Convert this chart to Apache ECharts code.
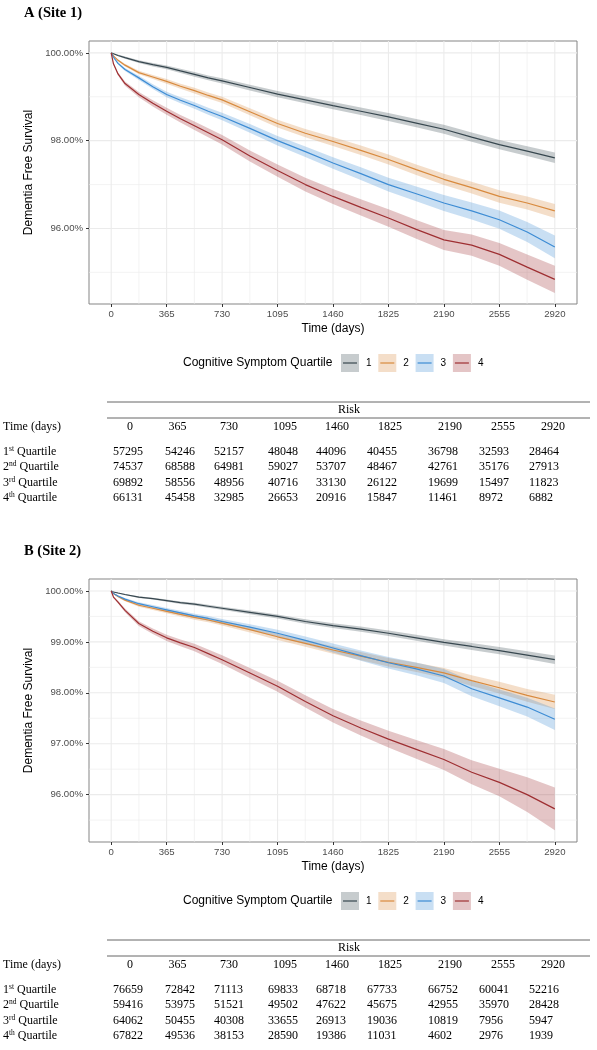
<!DOCTYPE html>
<html><head><meta charset="utf-8">
<script src="https://cdn.jsdelivr.net/npm/echarts@6/dist/echarts.min.js"></script>
<style>html,body{margin:0;padding:0;background:#fff}#c{width:597px;height:1050px}</style>
</head><body><div id="c"></div>
<script>
// ---------- DATA ----------
const days = [0, 15, 45, 91, 182, 274, 365, 456, 548, 639, 730, 913, 1095, 1278, 1460, 1643, 1825, 2008, 2190, 2373, 2555, 2738, 2920];
const xTicks = [0, 365, 730, 1095, 1460, 1825, 2190, 2555, 2920];
const xMinor = [182.5, 547.5, 912.5, 1277.5, 1642.5, 2007.5, 2372.5, 2737.5];
const yTicksA = [96, 98, 100];
const yMinorA = [95, 97, 99];
const yTicksB = [96, 97, 98, 99, 100];
const yMinorB = [95.5, 96.5, 97.5, 98.5, 99.5];
const quartileNames = ['1', '2', '3', '4'];

// Site 1 survival (%)
const siteA_q1 = [100, 99.98, 99.94, 99.89, 99.80, 99.73, 99.67, 99.59, 99.51, 99.43, 99.36, 99.21, 99.06, 98.93, 98.80, 98.67, 98.54, 98.40, 98.26, 98.08, 97.91, 97.76, 97.61];
const siteA_q2 = [100, 99.93, 99.83, 99.72, 99.55, 99.45, 99.35, 99.24, 99.14, 99.03, 98.93, 98.66, 98.39, 98.17, 97.98, 97.78, 97.57, 97.34, 97.12, 96.93, 96.73, 96.58, 96.40];
const siteA_q3 = [100, 99.90, 99.76, 99.62, 99.43, 99.23, 99.05, 98.92, 98.80, 98.67, 98.55, 98.28, 98.00, 97.75, 97.49, 97.25, 97.00, 96.79, 96.58, 96.40, 96.20, 95.92, 95.58];
const siteA_q4 = [100, 99.75, 99.52, 99.30, 99.05, 98.85, 98.67, 98.50, 98.34, 98.18, 98.02, 97.65, 97.32, 97.00, 96.73, 96.48, 96.24, 95.98, 95.74, 95.62, 95.41, 95.12, 94.84];
// Site 1 CI half-widths (%)
const ciA_q1 = [0, 0.01, 0.02, 0.025, 0.032, 0.038, 0.043, 0.048, 0.052, 0.056, 0.06, 0.066, 0.072, 0.078, 0.083, 0.088, 0.092, 0.096, 0.1, 0.104, 0.108, 0.112, 0.118];
const ciA_q2 = [0, 0.012, 0.022, 0.03, 0.04, 0.047, 0.053, 0.058, 0.063, 0.068, 0.072, 0.08, 0.088, 0.095, 0.102, 0.108, 0.114, 0.12, 0.127, 0.134, 0.142, 0.15, 0.16];
const ciA_q3 = [0, 0.015, 0.027, 0.036, 0.047, 0.055, 0.062, 0.068, 0.074, 0.08, 0.086, 0.097, 0.108, 0.12, 0.132, 0.143, 0.155, 0.167, 0.18, 0.193, 0.207, 0.23, 0.26];
const ciA_q4 = [0, 0.02, 0.035, 0.047, 0.06, 0.07, 0.079, 0.087, 0.095, 0.103, 0.11, 0.125, 0.14, 0.155, 0.17, 0.185, 0.2, 0.214, 0.228, 0.243, 0.26, 0.285, 0.31];

// Site 2 survival (%)
const siteB_q1 = [100, 99.98, 99.96, 99.93, 99.88, 99.85, 99.81, 99.77, 99.74, 99.70, 99.66, 99.58, 99.50, 99.40, 99.32, 99.25, 99.17, 99.08, 98.99, 98.91, 98.83, 98.74, 98.65];
const siteB_q2 = [100, 99.95, 99.89, 99.82, 99.72, 99.66, 99.60, 99.54, 99.48, 99.43, 99.37, 99.24, 99.10, 98.97, 98.84, 98.72, 98.60, 98.50, 98.39, 98.24, 98.10, 97.95, 97.82];
const siteB_q3 = [100, 99.95, 99.90, 99.84, 99.75, 99.69, 99.63, 99.57, 99.51, 99.46, 99.40, 99.29, 99.17, 99.03, 98.88, 98.73, 98.59, 98.47, 98.33, 98.08, 97.90, 97.72, 97.48];
const siteB_q4 = [100, 99.88, 99.78, 99.62, 99.36, 99.21, 99.08, 98.98, 98.89, 98.77, 98.65, 98.39, 98.13, 97.83, 97.55, 97.31, 97.09, 96.89, 96.69, 96.44, 96.24, 96.00, 95.72];
// Site 2 CI half-widths (%)
const ciB_q1 = [0, 0.005, 0.01, 0.012, 0.016, 0.019, 0.022, 0.025, 0.027, 0.029, 0.031, 0.035, 0.039, 0.043, 0.047, 0.051, 0.055, 0.059, 0.063, 0.067, 0.071, 0.076, 0.082];
const ciB_q2 = [0, 0.01, 0.017, 0.022, 0.028, 0.032, 0.036, 0.04, 0.043, 0.046, 0.049, 0.055, 0.061, 0.067, 0.073, 0.079, 0.085, 0.091, 0.098, 0.106, 0.115, 0.125, 0.14];
const ciB_q3 = [0, 0.01, 0.017, 0.022, 0.028, 0.032, 0.036, 0.04, 0.043, 0.046, 0.05, 0.058, 0.067, 0.077, 0.088, 0.1, 0.112, 0.124, 0.137, 0.15, 0.165, 0.185, 0.21];
const ciB_q4 = [0, 0.015, 0.027, 0.036, 0.047, 0.055, 0.062, 0.068, 0.074, 0.08, 0.086, 0.097, 0.108, 0.12, 0.133, 0.148, 0.165, 0.185, 0.207, 0.235, 0.27, 0.34, 0.42];

// Risk tables
const riskTimes = ['0', '365', '730', '1095', '1460', '1825', '2190', '2555', '2920'];
const riskRowOrd = ['st', 'nd', 'rd', 'th'];
const riskA_q1 = [57295, 54246, 52157, 48048, 44096, 40455, 36798, 32593, 28464];
const riskA_q2 = [74537, 68588, 64981, 59027, 53707, 48467, 42761, 35176, 27913];
const riskA_q3 = [69892, 58556, 48956, 40716, 33130, 26122, 19699, 15497, 11823];
const riskA_q4 = [66131, 45458, 32985, 26653, 20916, 15847, 11461, 8972, 6882];
const riskB_q1 = [76659, 72842, 71113, 69833, 68718, 67733, 66752, 60041, 52216];
const riskB_q2 = [59416, 53975, 51521, 49502, 47622, 45675, 42955, 35970, 28428];
const riskB_q3 = [64062, 50455, 40308, 33655, 26913, 19036, 10819, 7956, 5947];
const riskB_q4 = [67822, 49536, 38153, 28590, 19386, 11031, 4602, 2976, 1939];

// ---------- LAYOUT / STYLE ----------
const colors = ['#37474F', '#D88A3E', '#3D8CD4', '#9E2F32'];
const SANS = '"Liberation Sans", Arial, Helvetica, sans-serif';
const SERIF = '"Liberation Serif", "Times New Roman", serif';
const panels = [
  { title: 'A (Site 1)', surv: [siteA_q1, siteA_q2, siteA_q3, siteA_q4], ci: [ciA_q1, ciA_q2, ciA_q3, ciA_q4],
    risk: [riskA_q1, riskA_q2, riskA_q3, riskA_q4], yMin: 94.28, yMax: 100.27, yTicks: yTicksA, yMinor: yMinorA, dy: 0 },
  { title: 'B (Site 2)', surv: [siteB_q1, siteB_q2, siteB_q3, siteB_q4], ci: [ciB_q1, ciB_q2, ciB_q3, ciB_q4],
    risk: [riskB_q1, riskB_q2, riskB_q3, riskB_q4], yMin: 95.07, yMax: 100.235, yTicks: yTicksB, yMinor: yMinorB, dy: 538 }
];
const X_MIN = -146, X_MAX = 3066;

const grids = [], xAxes = [], yAxes = [], series = [], graphics = [], titles = [];

function gridLineSeries(p, vals, dir, w) {
  const P = panels[p];
  const mid = dir === 'v' ? (P.yMin + P.yMax) / 2 : 1460;
  return {
    type: 'custom', xAxisIndex: p, yAxisIndex: p, silent: true, z: 0,
    data: vals.map(v => dir === 'v' ? [v, mid] : [mid, v]),
    renderItem(params, api) {
      const cs = params.coordSys;
      if (dir === 'v') {
        const x = api.coord([api.value(0), api.value(1)])[0];
        return { type: 'line', shape: { x1: x, y1: cs.y, x2: x, y2: cs.y + cs.height }, style: { stroke: '#EBEBEB', lineWidth: w } };
      } else {
        const y = api.coord([api.value(0), api.value(1)])[1];
        return { type: 'line', shape: { x1: cs.x, y1: y, x2: cs.x + cs.width, y2: y }, style: { stroke: '#EBEBEB', lineWidth: w } };
      }
    }
  };
}

// confidence ribbon: one polygon through the library's coordinate system
function ribbonSeries(p, est, ci, color) {
  const rows = days.map((t, i) => [t, est[i] - ci[i], est[i] + ci[i]]);
  return {
    type: 'custom', xAxisIndex: p, yAxisIndex: p, silent: true, z: 1,
    encode: { x: 0, y: [1, 2] },
    data: rows,
    renderItem(params, api) {
      if (params.dataIndex !== 0) return null;
      const up = rows.map(r => api.coord([r[0], r[2]]));
      const lo = rows.map(r => api.coord([r[0], r[1]])).reverse();
      return { type: 'polygon', shape: { points: up.concat(lo) }, style: { fill: color, opacity: 0.28 } };
    }
  };
}

const colLeft = [113, 165, 214, 268, 316, 367, 428, 479, 529];
const headCenter = [130, 177.5, 229, 285, 337, 390, 450, 503, 553];

panels.forEach((P, p) => {
  const top = 41 + P.dy;
  grids.push({ left: 89, top: top, width: 488, height: 263, show: true, borderColor: '#858585', borderWidth: 1, backgroundColor: 'rgba(0,0,0,0)' });
  xAxes.push({
    type: 'value', gridIndex: p, min: X_MIN, max: X_MAX,
    axisLine: { show: false, onZero: false },
    axisTick: { show: true, customValues: xTicks, length: 3, lineStyle: { color: '#333', width: 1 } },
    axisLabel: { customValues: xTicks, color: '#4D4D4D', fontSize: 9.6, fontFamily: SANS, margin: 5, formatter: v => String(v) },
    splitLine: { show: false },
    name: 'Time (days)', nameLocation: 'middle', nameGap: 19,
    nameTextStyle: { color: '#000', fontSize: 12, fontFamily: SANS }
  });
  yAxes.push({
    type: 'value', gridIndex: p, min: P.yMin, max: P.yMax,
    axisLine: { show: false, onZero: false },
    axisTick: { show: true, customValues: P.yTicks, length: 3, lineStyle: { color: '#333', width: 1 } },
    axisLabel: { customValues: P.yTicks, color: '#4D4D4D', fontSize: 9.6, fontFamily: SANS, margin: 6,
      formatter: v => v.toFixed(2) + '%' },
    splitLine: { show: false },
    name: 'Dementia Free Survival', nameLocation: 'middle', nameGap: 48,
    nameTextStyle: { color: '#000', fontSize: 12, fontFamily: SANS }
  });
  series.push(gridLineSeries(p, xMinor, 'v', 0.6));
  series.push(gridLineSeries(p, P.yMinor, 'h', 0.6));
  series.push(gridLineSeries(p, xTicks, 'v', 1.1));
  series.push(gridLineSeries(p, P.yTicks, 'h', 1.1));

  P.surv.forEach((est, k) => series.push(ribbonSeries(p, est, P.ci[k], colors[k])));
  P.surv.forEach((est, k) => {
    series.push({
      type: 'line', name: quartileNames[k], xAxisIndex: p, yAxisIndex: p, z: 3,
      data: days.map((t, i) => [t, est[i]]),
      symbol: 'none', lineStyle: { color: colors[k], width: 1.2 }
    });
  });

  titles.push({ text: P.title, left: 24, top: 6 + P.dy, padding: 0,
    textStyle: { fontFamily: SERIF, fontWeight: 'bold', fontSize: 14.5, color: '#000' } });

  // legend (drawn keys)
  const ly = 363 + P.dy;
  graphics.push({ type: 'text', x: 183, y: ly, style: { text: 'Cognitive Symptom Quartile', font: '12px ' + SANS, fill: '#000', textVerticalAlign: 'middle', verticalAlign: 'middle' } });
  quartileNames.forEach((nm, k) => {
    const kx = 341 + k * 37.3;
    graphics.push({ type: 'rect', shape: { x: kx, y: ly - 9, width: 18, height: 18 }, style: { fill: colors[k], opacity: 0.28 } });
    graphics.push({ type: 'line', shape: { x1: kx + 2, y1: ly, x2: kx + 16, y2: ly }, style: { stroke: colors[k], lineWidth: 1.2 } });
    graphics.push({ type: 'text', x: kx + 25, y: ly, style: { text: nm, font: '10px ' + SANS, fill: '#000', textVerticalAlign: 'middle', verticalAlign: 'middle' } });
  });

  // risk table
  const t0 = 402 + P.dy;
  graphics.push({ type: 'line', shape: { x1: 107, y1: t0, x2: 590, y2: t0 }, style: { stroke: '#666', lineWidth: 1 } });
  graphics.push({ type: 'line', shape: { x1: 107, y1: t0 + 16, x2: 590, y2: t0 + 16 }, style: { stroke: '#666', lineWidth: 1 } });
  graphics.push({ type: 'text', x: 349, y: t0 + 8, style: { text: 'Risk', font: '12px ' + SERIF, fill: '#000', textAlign: 'center', align: 'center', textVerticalAlign: 'middle', verticalAlign: 'middle' } });
  graphics.push({ type: 'text', x: 3, y: t0 + 25, style: { text: 'Time (days)', font: '12px ' + SERIF, fill: '#000', textVerticalAlign: 'middle', verticalAlign: 'middle' } });
  riskTimes.forEach((tl, j) => {
    graphics.push({ type: 'text', x: headCenter[j], y: t0 + 25, style: { text: tl, font: '12px ' + SERIF, fill: '#000', textAlign: 'center', align: 'center', textVerticalAlign: 'middle', verticalAlign: 'middle' } });
  });
  P.risk.forEach((row, r) => {
    const ry = t0 + 50 + r * 15.3;
    graphics.push({ type: 'text', x: 3, y: ry, style: {
      text: '{n|' + (r + 1) + '}{s|' + riskRowOrd[r] + '}{n| Quartile}',
      rich: { n: { font: '12px ' + SERIF, fill: '#000', lineHeight: 14 }, s: { font: '7.5px ' + SERIF, fill: '#000', verticalAlign: 'top' } },
      textVerticalAlign: 'middle', verticalAlign: 'middle' } });
    row.forEach((v, j) => {
      graphics.push({ type: 'text', x: colLeft[j], y: ry, style: { text: String(v), font: '12px ' + SERIF, fill: '#000', textVerticalAlign: 'middle', verticalAlign: 'middle' } });
    });
  });
});

const chart = echarts.init(document.getElementById('c'), null, { renderer: 'canvas' });
chart.setOption({
  animation: false,
  backgroundColor: '#fff',
  title: titles,
  grid: grids,
  xAxis: xAxes,
  yAxis: yAxes,
  series: series,
  graphic: { elements: graphics }
});
</script>
</body></html>
